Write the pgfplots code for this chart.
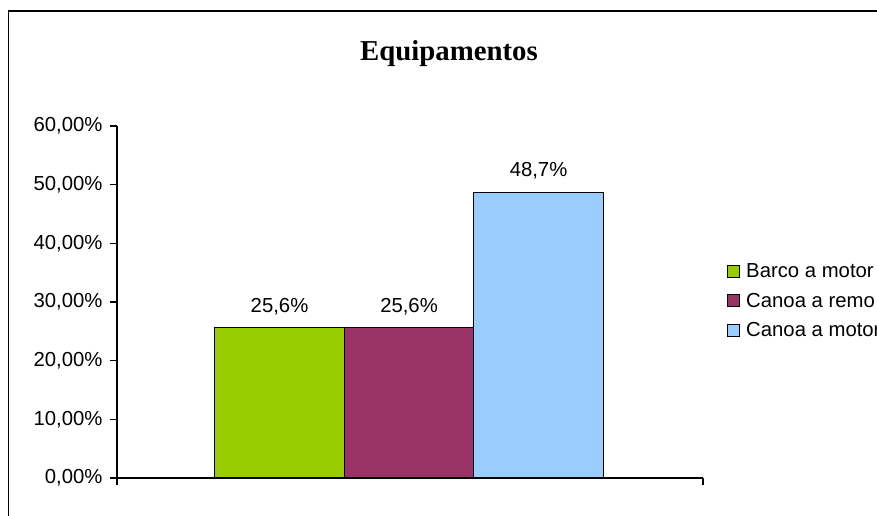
\documentclass[border=0pt]{standalone}
\usepackage{pgfplots}
\pgfplotsset{compat=1.18}
\usepackage{fontspec}
\setmainfont{Liberation Sans}
\newfontfamily\titlefont{Liberation Serif}
\definecolor{cgreen}{RGB}{153,204,0}
\definecolor{cpurple}{RGB}{153,51,102}
\definecolor{cblue}{RGB}{153,204,255}
\begin{document}
\begin{tikzpicture}[x=1pt,y=1pt]
\path[use as bounding box] (0,0) rectangle (877,516);
\draw[line width=1.5pt] (8.5,0) -- (8.5,505) -- (877,505);
\node[font=\titlefont\bfseries\fontsize{28.8}{28.8}\selectfont] at (449,462) {Equipamentos};
\begin{axis}[
  at={(117pt,38pt)}, anchor=south west,
  scale only axis, width=586pt, height=352pt,
  xmin=-1.255, xmax=3.27, ymin=0, ymax=60,
  axis x line*=bottom, axis y line*=left,
  axis line style={line width=1.5pt,-},
  xtick={-1.255,3.27}, xticklabels={,},
  ytick={0,10,20,30,40,50,60},
  yticklabels={{0,00\%},{10,00\%},{20,00\%},{30,00\%},{40,00\%},{50,00\%},{60,00\%}},
  tick align=outside, major tick length=7pt,
  tick style={line width=1.5pt,black},
  tick label style={font=\fontsize{20.3}{20.3}\selectfont},
  yticklabel style={xshift=-4pt},
  /pgf/number format/assume math mode=true,
  ybar, bar width=1,
  nodes near coords={\pgfmathprintnumber[fixed,fixed zerofill,precision=1,use comma]{\pgfplotspointmeta}\%},
  every node near coord/.append style={font=\fontsize{20.3}{20.3}\selectfont, yshift=9pt, black},
  legend image code/.code={\draw[#1,draw=black,line width=1pt] (0pt,-6pt) rectangle (12pt,6pt);},
  legend style={draw=none, fill=none, at={(rel axis cs:1.041,0.503)}, anchor=west,
    font=\fontsize{20.3}{20.3}\selectfont, inner sep=0pt, row sep=10pt,
    cells={anchor=west}, nodes={inner xsep=6pt}},
]
\addplot[fill=cgreen, draw=black, line width=1.2pt, bar shift=0pt] coordinates {(0,25.6)};
\addplot[fill=cpurple, draw=black, line width=1.2pt, bar shift=0pt] coordinates {(1,25.6)};
\addplot[fill=cblue, draw=black, line width=1.2pt, bar shift=0pt] coordinates {(2,48.7)};
\legend{Barco a motor, Canoa a remo, Canoa a motor}
\end{axis}
\end{tikzpicture}
\end{document}
